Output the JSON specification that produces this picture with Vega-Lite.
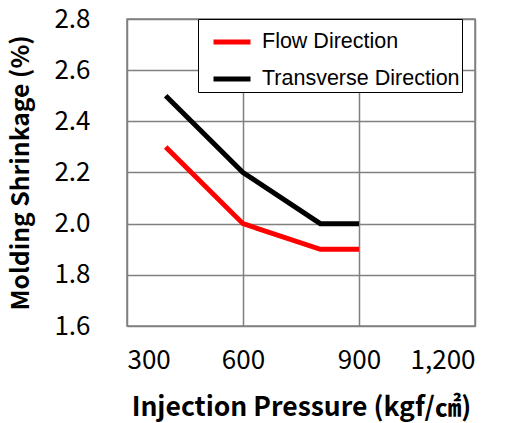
{
  "$schema": "https://vega.github.io/schema/vega-lite/v6.json",
  "width": 348,
  "height": 307,
  "autosize": "none",
  "padding": {"left": 127, "top": 19, "right": 40, "bottom": 97},
  "background": "white",
  "config": {
    "view": {"stroke": "#808080", "strokeWidth": 1.5},
    "font": "Noto Sans CJK KR"
  },
  "data": {
    "values": [
      {"pressure": 400, "shrinkage": 2.3, "series": "Flow Direction"},
      {"pressure": 600, "shrinkage": 2.0, "series": "Flow Direction"},
      {"pressure": 800, "shrinkage": 1.9, "series": "Flow Direction"},
      {"pressure": 900, "shrinkage": 1.9, "series": "Flow Direction"},
      {"pressure": 400, "shrinkage": 2.5, "series": "Transverse Direction"},
      {"pressure": 600, "shrinkage": 2.2, "series": "Transverse Direction"},
      {"pressure": 800, "shrinkage": 2.0, "series": "Transverse Direction"},
      {"pressure": 900, "shrinkage": 2.0, "series": "Transverse Direction"}
    ]
  },
  "mark": {"type": "line", "strokeWidth": 5, "strokeJoin": "miter"},
  "encoding": {
    "x": {
      "field": "pressure",
      "type": "quantitative",
      "scale": {"domain": [300, 1200], "nice": false},
      "axis": {
        "values": [300, 600, 900, 1200],
        "format": ",d",
        "title": "Injection Pressure (kgf/㎠)",
        "titleFontSize": 26.5,
        "titleFontWeight": "bold",
        "titleColor": "black",
        "titlePadding": 21,
        "labelFontSize": 26,
        "labelColor": "black",
        "labelPadding": 21,
        "ticks": false,
        "domain": false,
        "grid": true,
        "gridColor": "#808080",
        "gridWidth": 1.5,
        "gridOpacity": 1
      }
    },
    "y": {
      "field": "shrinkage",
      "type": "quantitative",
      "scale": {"domain": [1.6, 2.8], "nice": false, "zero": false},
      "axis": {
        "values": [1.6, 1.8, 2.0, 2.2, 2.4, 2.6, 2.8],
        "format": ".1f",
        "title": "Molding Shrinkage (%)",
        "titleFontSize": 24.7,
        "titleFontWeight": "bold",
        "titleColor": "black",
        "titlePadding": 20,
        "labelFontSize": 26,
        "labelColor": "black",
        "labelPadding": 37,
        "ticks": false,
        "domain": false,
        "grid": true,
        "gridColor": "#808080",
        "gridWidth": 1.5,
        "gridOpacity": 1
      }
    },
    "color": {
      "field": "series",
      "type": "nominal",
      "scale": {"domain": ["Flow Direction", "Transverse Direction"], "range": ["#ff0000", "#000000"]},
      "legend": {
        "title": null,
        "orient": "none",
        "legendX": 71,
        "legendY": 0,
        "symbolType": "stroke",
        "symbolSize": 1369,
        "symbolStrokeWidth": 5,
        "symbolOffset": 11,
        "labelFont": "Liberation Sans",
        "labelFontSize": 21.5,
        "labelColor": "black",
        "labelOffset": 9,
        "labelLimit": 400,
        "rowPadding": 5,
        "padding": 2,
        "strokeColor": "black",
        "fillColor": "white"
      }
    }
  }
}
